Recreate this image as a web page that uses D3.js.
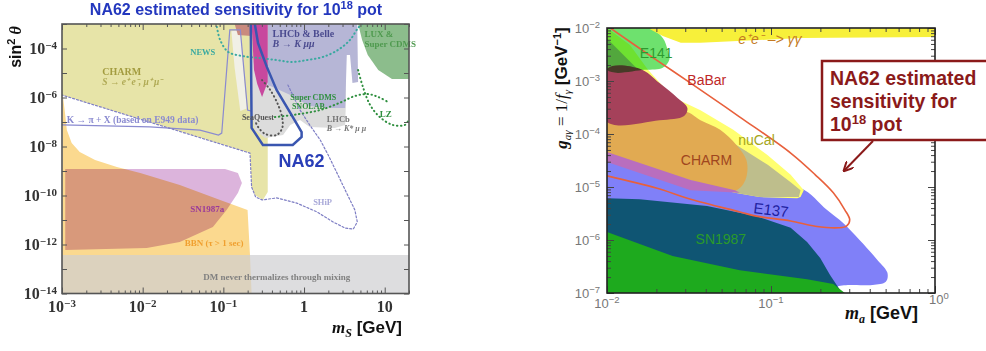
<!DOCTYPE html>
<html>
<head>
<meta charset="utf-8">
<script src="https://cdn.jsdelivr.net/npm/d3@7"></script>
<style>
  body { margin: 0; background: #fff; }
  svg { display: block; }
</style>
</head>
<body>
<svg id="chart" width="986" height="351"></svg>
<script>
// ---------- left panel: sin^2(theta) vs m_S ----------
// every shape is a list of [log10 m_S (GeV), log10 sin^2 theta]
const dmBand = [[-3, -14], [1.301, -14], [1.301, -12.43], [-3, -12.43]];
const bbnRegion = [[-2.99, -5.90], [-2.96, -6.71], [-2.94, -7.33], [-2.88, -7.86], [-2.78, -8.22], [-2.59, -8.55],
  [-2.32, -8.84], [-2.03, -9.08], [-1.54, -9.57], [-1.04, -10.18], [-0.70, -10.59], [-0.67, -12.43],
  [-0.65, -14], [-3, -14]];
const sn1987aRegion = [[-2.96, -8.92], [-0.98, -8.92], [-0.82, -9.08], [-0.77, -9.49], [-0.82, -9.90],
  [-0.96, -10.59], [-1.13, -11.29], [-1.54, -11.90], [-1.95, -12.14], [-2.96, -12.22]];
const charmRegion = [[-3, -3], [-0.45, -3], [-0.45, -9.86], [-0.51, -10.18], [-0.61, -9.98], [-0.65, -9.65],
  [-0.67, -8.27], [-3, -5.90]];
const kaonSpike = [[-0.90, -3.30], [-0.79, -3.24], [-0.71, -6.45], [-0.79, -6.55], [-0.86, -4.8]];
const kaonLine = [[-3, -7.12], [-1.91, -7.20], [-1.29, -7.33], [-1.06, -7.53], [-1.02, -7.45], [-0.92, -3.24],
  [-0.79, -3.24], [-0.70, -6.51], [-0.66, -6.55]];
const brownRegion = [[-0.86, -3], [-0.65, -3], [-0.65, -3.49], [-0.82, -3.45]];
const greyRegion = [[-0.65, -4.47], [0.51, -4.47], [0.52, -6.10], [0.51, -7.12], [0.38, -7.24], [0.07, -7.20],
  [-0.05, -6.92], [-0.17, -7.12], [-0.26, -7.53], [-0.48, -7.65], [-0.61, -7.33], [-0.65, -6.51]];
const lhcbRegion = [[-0.45, -3], [0.66, -3], [0.67, -5.37], [0.60, -5.41], [0.57, -4.27], [0.53, -4.27],
  [0.51, -6.43], [0.32, -6.43], [0.07, -6.35], [-0.17, -5.90], [-0.36, -5.61], [-0.45, -5.49]];
const magentaRegion = [[-0.65, -3], [-0.45, -3], [-0.45, -5.37], [-0.52, -5.98], [-0.58, -5.45], [-0.62, -4.88]];
const luxRegion = [[0.67, -3], [1.301, -3], [1.301, -5.24], [1.09, -5.24], [0.92, -4.88], [0.79, -4.27], [0.72, -3.65]];
const newsCurve = [[-1.08, -3.12], [-1.04, -3.65], [-0.94, -4.14], [-0.76, -4.31], [-0.55, -4.39], [-0.34, -4.47],
  [-0.15, -4.55], [0.04, -4.47], [0.23, -4.35], [0.42, -4.06], [0.57, -3.65], [0.67, -3.16], [0.72, -3.0]];
const cdmsCurve = [[-0.36, -6.80], [-0.05, -6.67], [0.20, -6.51], [0.44, -6.22], [0.63, -5.94], [0.79, -5.86],
  [0.92, -5.98], [1.06, -6.22]];
const lzCurve = [[0.67, -4.88], [0.73, -5.57], [0.82, -6.31], [0.94, -6.80], [1.10, -7.12], [1.25, -7.12], [1.29, -6.96]];
const seaquestCurve = [[-0.52, -5.29], [-0.42, -5.69], [-0.32, -6.31], [-0.27, -6.84], [-0.27, -7.24], [-0.34, -7.53],
  [-0.48, -7.49], [-0.57, -7.20], [-0.61, -6.92]];
const shipCurve = [[-0.20, -5.49], [-0.05, -6.51], [0.07, -7.12], [0.20, -7.73], [0.30, -8.35], [0.42, -9.16],
  [0.54, -9.98], [0.63, -10.59], [0.66, -11.08], [0.61, -11.37], [0.51, -11.33], [0.36, -11.08], [0.16, -10.67],
  [-0.09, -10.31], [-0.34, -10.10], [-0.52, -10.18], [-0.60, -10.06], [-0.65, -9.65], [-0.67, -8.27], [-3, -5.90]];
const na62Curve = [[-0.66, -3], [-0.65, -7.24], [-0.51, -7.94], [-0.14, -7.94], [-0.03, -7.61], [-0.03, -7.41],
  [-0.17, -6.63], [-0.34, -5.69], [-0.46, -4.76], [-0.57, -3.78], [-0.61, -3]];
const leftYTicks = [-14, -13, -12, -11, -10, -9, -8, -7, -6, -5, -4, -3];
const leftYLabels = [-14, -12, -10, -8, -6, -4];
const leftXTicks = [-3, -2, -1, 0, 1];
const leftXLabels = [["10", "\u22123"], ["10", "\u22122"], ["10", "\u22121"], ["1", ""], ["10", ""]];

// ---------- right panel: g_a\u03b3 vs m_a ----------
// [log10 m_a (GeV), log10 g (GeV^-1)]
const e137Region = [[-2, -4.30], [-1.43, -4.87], [-1.07, -4.96], [-0.82, -5.02], [-0.66, -5.43], [-0.56, -5.68],
  [-0.46, -6.00], [-0.35, -6.38], [-0.29, -6.62], [-0.30, -6.79], [-0.38, -6.85], [-0.52, -6.85], [-0.60, -6.89],
  [-0.61, -7], [-2, -7]];
const tealRegion = [[-2, -5.21], [-1.80, -5.23], [-1.39, -5.36], [-1.09, -5.55], [-0.88, -5.77], [-0.78, -6.04],
  [-0.70, -6.34], [-0.64, -6.66], [-0.58, -6.94], [-0.57, -7], [-2, -7]];
const sn1987Region = [[-2, -5.85], [-1.60, -6.30], [-1.19, -6.57], [-0.78, -6.74], [-0.62, -6.83], [-0.55, -7], [-2, -7]];
const nucalOuter = [[-2, -2], [-1.86, -2.32], [-1.75, -2.79], [-1.60, -3.30], [-1.43, -3.55], [-1.23, -3.92],
  [-1.02, -4.40], [-0.88, -4.77], [-0.80, -5.06], [-0.82, -5.19], [-0.84, -5.21], [-1.07, -5.19], [-1.22, -5.11], [-2, -4.49]];
const nucalInner = [[-2, -2.20], [-1.79, -2.85], [-1.55, -3.55], [-1.43, -3.79], [-1.23, -4.17], [-1.02, -4.58],
  [-0.88, -4.91], [-0.82, -5.06], [-0.83, -5.19], [-1.07, -5.19], [-1.22, -5.11], [-2, -4.49]];
const charmAxRegion = [[-2, -3.77], [-1.68, -3.70], [-1.52, -3.58], [-1.43, -3.74], [-1.31, -3.92], [-1.21, -4.21],
  [-1.15, -4.49], [-1.15, -4.81], [-1.19, -5.02], [-1.25, -5.09], [-1.49, -4.87], [-2, -4.34]];
const mauveRegion = [[-2, -4.34], [-1.49, -4.87], [-1.22, -5.06], [-1.19, -5.11], [-1.49, -5.06], [-2, -4.53]];
const maroonRegion = [[-2, -2.77], [-1.80, -2.77], [-1.68, -3.04], [-1.57, -3.32], [-1.51, -3.51], [-1.53, -3.66],
  [-1.68, -3.74], [-2, -3.77]];
const e141Region = [[-2, -2], [-1.74, -2], [-1.66, -2.19], [-1.63, -2.42], [-1.62, -2.60], [-1.66, -2.75],
  [-1.77, -2.79], [-2, -2.79]];
const eeggBand = [[-1.74, -2.02], [0, -2], [0, -2.17], [-0.82, -2.19], [-1.43, -2.28], [-1.55, -2.28], [-1.66, -2.15]];
const na62Loop = [[-1.99, -1.98], [-1.70, -2.60], [-1.49, -3.04], [-1.19, -3.68], [-0.88, -4.36], [-0.73, -4.77],
  [-0.62, -5.11], [-0.55, -5.43], [-0.52, -5.62], [-0.54, -5.74], [-0.59, -5.77], [-0.73, -5.74], [-0.88, -5.64],
  [-1.09, -5.55], [-1.19, -5.47], [-1.49, -5.23], [-1.70, -5.02], [-2, -4.79]];
const rightYTicks = [-7, -6, -5, -4, -3, -2];
const rightXTicks = [-2, -1, 0];

// ---------- drawing ----------
const svg = d3.select("#chart");
const serif = "'Liberation Serif', 'Times New Roman', serif";
const sans = "'Liberation Sans', Arial, Helvetica, sans-serif";

const lx = d3.scaleLog().domain([1e-3, 20]).range([62, 409]);
const ly = d3.scaleLog().domain([1e-14, 1e-3]).range([293.5, 24]);
const rx = d3.scaleLog().domain([1e-2, 1]).range([607, 935]);
const ry = d3.scaleLog().domain([1e-7, 1e-2]).range([293, 28]);

const lineL = d3.line().x(d => lx(10 ** d[0])).y(d => ly(10 ** d[1]));
const lineR = d3.line().x(d => rx(10 ** d[0])).y(d => ry(10 ** d[1]));

const defs = svg.append("defs");
defs.append("clipPath").attr("id", "clipL").append("rect").attr("x", 62).attr("y", 24).attr("width", 347).attr("height", 269.5);
defs.append("clipPath").attr("id", "clipR").append("rect").attr("x", 607).attr("y", 28).attr("width", 328).attr("height", 265);
defs.append("marker").attr("id", "arrow").attr("viewBox", "0 0 10 10").attr("refX", 8).attr("refY", 5)
  .attr("markerWidth", 5).attr("markerHeight", 5).attr("orient", "auto-start-reverse")
  .append("path").attr("d", "M0,0L10,5L0,10").attr("fill", "none").attr("stroke", "#8b1a1a").attr("stroke-width", 2);

function shape(g, line, pts, fill, curve, blend) {
  return g.append("path")
    .attr("d", line.curve(curve || d3.curveLinearClosed)(pts))
    .attr("fill", fill)
    .style("mix-blend-mode", blend || "normal");
}
function trace(g, line, pts, color, width, dash, curve) {
  return g.append("path")
    .attr("d", line.curve(curve || d3.curveCatmullRom)(pts))
    .attr("fill", "none").attr("stroke", color).attr("stroke-width", width)
    .attr("stroke-dasharray", dash || null).attr("stroke-linecap", "round");
}

// ===== LEFT =====
const gL = svg.append("g").attr("clip-path", "url(#clipL)").style("isolation", "isolate");
shape(gL, lineL, bbnRegion, "#fbd98f");
shape(gL, lineL, charmRegion, "#e7e4a8", null, "multiply");
shape(gL, lineL, sn1987aRegion, "#dcb4dc", d3.curveLinearClosed, "multiply");
shape(gL, lineL, dmBand, "#cfcfd2").attr("opacity", 0.7);
shape(gL, lineL, kaonSpike, "#f1f0e6");
shape(gL, lineL, greyRegion, "#dcdcdc");
shape(gL, lineL, lhcbRegion, "#b6b6d6");
shape(gL, lineL, brownRegion, "#c98a7e");
shape(gL, lineL, magentaRegion, "#c8489e");
shape(gL, lineL, luxRegion, "#8cbd8c", d3.curveLinearClosed);

trace(gL, lineL, kaonLine, "#8a8ad0", 1.2, null, d3.curveLinear);
trace(gL, lineL, shipCurve, "#7e7ec4", 1.2, "2,2", d3.curveLinear);
trace(gL, lineL, newsCurve, "#3aa9a0", 2, "0.5,3.5");
trace(gL, lineL, cdmsCurve, "#2f8f3f", 2, "0.5,3.5");
trace(gL, lineL, lzCurve, "#2f8f3f", 2, "0.5,3.5");
trace(gL, lineL, seaquestCurve, "#555", 2, "0.5,3.5");
trace(gL, lineL, na62Curve, "#3a56b0", 2.5, null, d3.curveLinear);

function ltext(str, m, s, color, size, opts = {}) {
  return svg.append("text")
    .attr("x", lx(10 ** m)).attr("y", ly(10 ** s))
    .attr("font-family", opts.family || serif).attr("font-weight", "bold")
    .attr("font-style", opts.italic ? "italic" : null)
    .attr("font-size", size).attr("fill", color)
    .attr("text-anchor", opts.anchor || "start").text(str);
}
ltext("CHARM", -2.50, -5.08, "#a39c40", 10);
ltext("S \u2192 e\u207a e\u207b,  \u03bc\u207a \u03bc\u207b", -2.50, -5.49, "#b0aa55", 9.5, { italic: true });
ltext("NEWS", -1.41, -4.27, "#3aa9a0", 8.5);
ltext("LHCb & Belle", -0.39, -3.53, "#4b4b8f", 10);
ltext("B  \u2192 K  \u03bc\u03bc", -0.39, -3.94, "#4b4b8f", 10, { italic: true });
ltext("LUX &", 0.75, -3.53, "#4f9a4f", 9);
ltext("Super CDMS", 0.75, -3.94, "#4f9a4f", 9);
ltext("Super CDMS", -0.17, -6.12, "#2f8f3f", 8);
ltext("SNOLAB", -0.15, -6.47, "#2f8f3f", 8);
ltext("LZ", 0.94, -6.80, "#2f8f3f", 9);
ltext("SeaQuest", -0.77, -6.90, "#555", 8);
ltext("LHCb", 0.28, -7.02, "#777", 8.5);
ltext("B  \u2192 K* \u03bc  \u03bc", 0.28, -7.36, "#777", 8, { italic: true });
ltext("K  \u2192  \u03c0 + X (based on E949 data)", -2.94, -7.04, "#8a8ad0", 9.5);
ltext("NA62", -0.03, -8.84, "#2a3fb8", 18, { family: sans, anchor: "middle" });
ltext("SHiP", 0.23, -10.39, "#a8a8d8", 8.5, { anchor: "middle" });
ltext("SN1987a", -1.41, -10.67, "#9a3a9a", 9);
ltext("BBN (\u03c4 > 1 sec)", -1.48, -12.06, "#f0a030", 9);
ltext("DM never thermalizes through mixing", -1.25, -13.45, "#808080", 9);

// left frame and ticks
const axL = svg.append("g").attr("stroke", "#555");
axL.append("g").attr("transform", "translate(62,0)")
  .call(d3.axisLeft(ly).tickValues(leftYTicks.map(e => 10 ** e)).tickSize(-5).tickFormat(""))
  .call(g => g.select(".domain").remove());
axL.append("g").attr("transform", "translate(409,0)")
  .call(d3.axisRight(ly).tickValues(leftYTicks.map(e => 10 ** e)).tickSize(-5).tickFormat(""))
  .call(g => g.select(".domain").remove());
const leftMinor = leftXTicks.flatMap(e => d3.range(2, 10).map(k => k * 10 ** e)).filter(v => v <= 20);
[["translate(0,293.5)", d3.axisBottom], ["translate(0,24)", d3.axisTop]].forEach(([t, ax]) => {
  axL.append("g").attr("transform", t).call(ax(lx).tickValues(leftXTicks.map(e => 10 ** e)).tickSize(-6).tickFormat(""))
    .call(g => g.select(".domain").remove());
  axL.append("g").attr("transform", t).call(ax(lx).tickValues(leftMinor).tickSize(-3).tickFormat(""))
    .call(g => g.select(".domain").remove());
});
axL.selectAll("line").attr("stroke", "#555").attr("stroke-width", 1);
svg.append("rect").attr("x", 62).attr("y", 24).attr("width", 347).attr("height", 269.5)
  .attr("fill", "none").attr("stroke", "#555").attr("stroke-width", 1.6);

function powText(sel, base, exp, expSize) {
  sel.append("tspan").text(base);
  if (exp) sel.append("tspan").attr("dy", "-0.5em").attr("font-size", expSize).text(exp);
  return sel;
}
leftYLabels.forEach(e => {
  const t = svg.append("text").attr("x", 57).attr("y", ly(10 ** e)).attr("dy", "0.35em")
    .attr("text-anchor", "end").attr("font-family", serif).attr("font-weight", "bold")
    .attr("font-size", 16).attr("fill", "#333");
  powText(t, "10", "\u2212" + (-e), 11);
});
leftXTicks.forEach((e, i) => {
  const t = svg.append("text").attr("x", lx(10 ** e)).attr("y", 312)
    .attr("text-anchor", "middle").attr("font-family", serif).attr("font-weight", "bold")
    .attr("font-size", 16).attr("fill", "#333");
  powText(t, leftXLabels[i][0], leftXLabels[i][1], 11);
});

// title and axis titles
const title = svg.append("text").attr("x", 236).attr("y", 15).attr("text-anchor", "middle")
  .attr("font-family", sans).attr("font-weight", "bold").attr("font-size", 16).attr("fill", "#2337be");
title.append("tspan").text("NA62 estimated sensitivity for 10");
title.append("tspan").attr("dy", -6).attr("font-size", 11).text("18");
title.append("tspan").attr("dy", 6).text(" pot");

const yl = svg.append("text").attr("transform", "translate(21,47) rotate(-90)").attr("text-anchor", "middle")
  .attr("font-family", sans).attr("font-weight", "bold").attr("font-size", 16).attr("fill", "#111");
yl.append("tspan").text("sin");
yl.append("tspan").attr("dy", -6).attr("font-size", 11).text("2");
yl.append("tspan").attr("dy", 6).attr("font-family", serif).attr("font-style", "italic").text(" \u03b8");

const xl = svg.append("text").attr("x", 402).attr("y", 333).attr("text-anchor", "end")
  .attr("font-weight", "bold").attr("font-size", 17).attr("fill", "#111");
xl.append("tspan").attr("font-family", serif).attr("font-style", "italic").text("m");
xl.append("tspan").attr("font-family", serif).attr("font-style", "italic").attr("font-size", 12).attr("dy", 4).text("S");
xl.append("tspan").attr("font-family", sans).attr("dy", -4).text(" [GeV]");

// ===== RIGHT =====
const gR = svg.append("g").attr("clip-path", "url(#clipR)").style("isolation", "isolate");
shape(gR, lineR, e137Region, "#8080f8", d3.curveCatmullRomClosed.alpha(0.5));
shape(gR, lineR, tealRegion, "#0f5573");
shape(gR, lineR, sn1987Region, "#1eaa1e");
shape(gR, lineR, nucalOuter, "#ffff70");
shape(gR, lineR, nucalInner, "#bebe8c");
shape(gR, lineR, charmAxRegion, "#e1aa52", d3.curveCatmullRomClosed.alpha(0.5));
shape(gR, lineR, mauveRegion, "#b96ebe");
shape(gR, lineR, maroonRegion, "#a5415a", d3.curveCatmullRomClosed.alpha(0.5));
shape(gR, lineR, e141Region, "#6ee16e", d3.curveCatmullRomClosed.alpha(0.5), "multiply");
shape(gR, lineR, eeggBand, "#f7f03a");
trace(gR, lineR, na62Loop, "#e8603c", 1.6, null, d3.curveCatmullRom.alpha(0.5));

function rtext(str, m, g, color, size, opts = {}) {
  const t = svg.append("text")
    .attr("x", rx(10 ** m)).attr("y", ry(10 ** g))
    .attr("font-family", sans).attr("font-size", size).attr("fill", color)
    .attr("font-style", opts.italic ? "italic" : null).text(str);
  if (opts.rotate) t.attr("transform", `rotate(${opts.rotate},${rx(10 ** m)},${ry(10 ** g)})`);
  return t;
}
rtext("E141", -1.80, -2.57, "#2e9a2e", 14);
rtext("BaBar", -1.51, -3.08, "#c02828", 14);
rtext("e\u207ae\u207b \u2013> \u03b3\u03b3", -1.20, -2.30, "#c47a22", 14, { italic: true });
rtext("nuCal", -1.20, -4.21, "#a6a61c", 14);
rtext("CHARM", -1.55, -4.58, "#a0461e", 14);
rtext("E137", -1.11, -5.49, "#2020a0", 15, { rotate: 7 });
rtext("SN1987", -1.46, -6.08, "#2a9a2a", 14);

// right frame and ticks
const axR = svg.append("g");
const rightYMinor = rightYTicks.slice(0, -1).flatMap(e => d3.range(2, 10).map(k => k * 10 ** e));
const rightXMinor = rightXTicks.slice(0, -1).flatMap(e => d3.range(2, 10).map(k => k * 10 ** e));
[["translate(607,0)", d3.axisLeft], ["translate(935,0)", d3.axisRight]].forEach(([t, ax]) => {
  axR.append("g").attr("transform", t).call(ax(ry).tickValues(rightYTicks.map(e => 10 ** e)).tickSize(-7).tickFormat(""));
  axR.append("g").attr("transform", t).call(ax(ry).tickValues(rightYMinor).tickSize(-4).tickFormat(""));
});
[["translate(0,293)", d3.axisBottom], ["translate(0,28)", d3.axisTop]].forEach(([t, ax]) => {
  axR.append("g").attr("transform", t).call(ax(rx).tickValues(rightXTicks.map(e => 10 ** e)).tickSize(-7).tickFormat(""));
  axR.append("g").attr("transform", t).call(ax(rx).tickValues(rightXMinor).tickSize(-4).tickFormat(""));
});
axR.selectAll(".domain").remove();
axR.selectAll("line").attr("stroke", "#444").attr("stroke-width", 1);
svg.append("rect").attr("x", 607).attr("y", 28).attr("width", 328).attr("height", 265)
  .attr("fill", "none").attr("stroke", "#222").attr("stroke-width", 1.6);

rightYTicks.forEach(e => {
  const t = svg.append("text").attr("x", 600).attr("y", ry(10 ** e)).attr("dy", "0.35em")
    .attr("text-anchor", "end").attr("font-family", sans).attr("font-size", 13).attr("fill", "#777");
  powText(t, "10", "\u2212" + (-e), 9.5);
});
rightXTicks.forEach(e => {
  const t = svg.append("text").attr("x", rx(10 ** e) + (e === 0 ? 4 : 0)).attr("y", e === 0 ? 304 : 308)
    .attr("text-anchor", "middle").attr("font-family", sans).attr("font-size", 13).attr("fill", "#777");
  powText(t, "10", e === 0 ? "0" : "\u2212" + (-e), 9.5);
});

const ryl = svg.append("text").attr("transform", "translate(567,88) rotate(-90)").attr("text-anchor", "middle")
  .attr("font-size", 17).attr("fill", "#111");
ryl.append("tspan").attr("font-family", serif).attr("font-style", "italic").attr("font-weight", "bold").text("g");
ryl.append("tspan").attr("font-family", serif).attr("font-style", "italic").attr("font-size", 11).attr("dy", 4).text("a\u03b3");
ryl.append("tspan").attr("font-family", serif).attr("dy", -4).text(" = 1/");
ryl.append("tspan").attr("font-family", serif).attr("font-style", "italic").text("f");
ryl.append("tspan").attr("font-family", serif).attr("font-style", "italic").attr("font-size", 11).attr("dy", 4).text("\u03b3");
ryl.append("tspan").attr("font-family", sans).attr("font-weight", "bold").attr("dy", -4).text(" [GeV");
ryl.append("tspan").attr("font-family", sans).attr("font-weight", "bold").attr("font-size", 11).attr("dy", -6).text("\u22121");
ryl.append("tspan").attr("font-family", sans).attr("font-weight", "bold").attr("dy", 6).text("]");

const rxl = svg.append("text").attr("x", 918).attr("y", 319).attr("text-anchor", "end")
  .attr("font-weight", "bold").attr("font-size", 18).attr("fill", "#111");
rxl.append("tspan").attr("font-family", serif).attr("font-style", "italic").text("m");
rxl.append("tspan").attr("font-family", serif).attr("font-style", "italic").attr("font-size", 12).attr("dy", 4).text("a");
rxl.append("tspan").attr("font-family", sans).attr("dy", -4).text(" [GeV]");

// annotation box with arrow
svg.append("rect").attr("x", 822).attr("y", 61).attr("width", 180).attr("height", 79)
  .attr("fill", "#fff").attr("stroke", "#8b1a1a").attr("stroke-width", 2.5);
const annLine = (y) => svg.append("text").attr("x", 830).attr("y", y).attr("font-family", sans)
  .attr("font-weight", "bold").attr("font-size", 19.5).attr("fill", "#8b1a1a");
annLine(85).text("NA62 estimated");
annLine(108).text("sensitivity for");
const l3 = annLine(131);
l3.append("tspan").text("10");
l3.append("tspan").attr("dy", -7).attr("font-size", 13).text("18");
l3.append("tspan").attr("dy", 7).text(" pot");
svg.append("line").attr("x1", 873).attr("y1", 141)
  .attr("x2", rx(10 ** -0.55)).attr("y2", ry(10 ** -4.68))
  .attr("stroke", "#8b1a1a").attr("stroke-width", 2).attr("marker-end", "url(#arrow)");
</script>
</body>
</html>
